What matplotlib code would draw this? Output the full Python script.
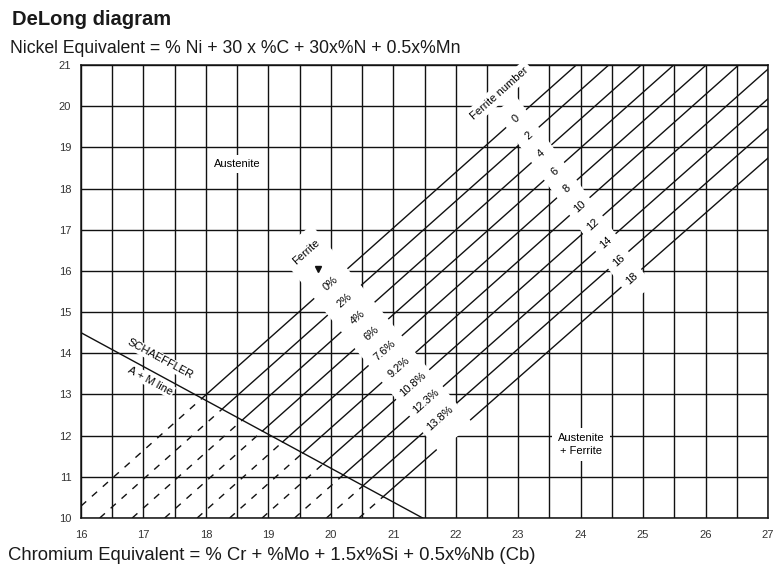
import numpy as np
import matplotlib

matplotlib.use("Agg")

import matplotlib.pyplot as plt

plt.rcParams["font.family"]=["Liberation Sans","DejaVu Sans"]

# axis ticks
cr_ticks=list(range(16,28))
ni_ticks=list(range(10,22))

# iso-ferrite lines, end points (Cr_eq, Ni_eq)
fn_numbers=[0,2,4,6,8,10,12,14,16,18]
fn_percent=["0%","2%","4%","6%","7.6%","9.2%","10.8%","12.3%","13.8%",""]
fn_start=[(16.0,10.29),(16.30,10),(16.82,10),(17.34,10),(17.86,10),
          (18.38,10),(18.90,10),(19.42,10),(19.93,10),(20.45,10)]
fn_end=[(23.93,21),(24.45,21),(24.97,21),(25.49,21),(26.01,21),
        (26.53,21),(27,20.90),(27,20.18),(27,19.46),(27,18.74)]

# Schaeffler A + M line
schaeffler_cr=[16.0,21.47]
schaeffler_ni=[14.5,10.0]

# label guides (where the labels sit along the lines)
pct_guide=[(19.42,16.78),(22.0,11.95)]
fn_guide=[(22.80,20.05),(24.99,15.45)]


def intersect(p0,p1,q0,q1):
    p0,p1,q0,q1=map(np.asarray,(p0,p1,q0,q1))
    d1=p1-p0
    d2=q1-q0
    den=d1[0]*d2[1]-d1[1]*d2[0]
    t=((q0[0]-p0[0])*d2[1]-(q0[1]-p0[1])*d2[0])/den
    return p0+t*d1


fig=plt.figure(figsize=(7.8,5.72),dpi=100)

ax=fig.add_axes([81/780,1-518/572,687/780,453/572])

ax.set_xlim(16,27)
ax.set_ylim(10,21)

ax.set_xticks(cr_ticks)
ax.set_yticks(ni_ticks)
ax.set_xticks(np.arange(16.5,27,1.0),minor=True)

ax.tick_params(which="both",length=0,labelsize=8,labelcolor="#333333")
ax.tick_params(axis="x",pad=9)
ax.tick_params(axis="y",pad=7)

ax.set_axisbelow(True)
ax.grid(which="major",color="#111111",linewidth=1.0)
ax.grid(which="minor",axis="x",color="#111111",linewidth=1.0)

for s in ax.spines.values():
    s.set_linewidth(1.1)
    s.set_color("#111111")

# Schaeffler line
ax.plot(schaeffler_cr,schaeffler_ni,color="#111111",linewidth=1.0,zorder=4)

sch0=(schaeffler_cr[0],schaeffler_ni[0])
sch1=(schaeffler_cr[1],schaeffler_ni[1])

# iso-ferrite lines: dashed below Schaeffler line, solid above
for i,fn in enumerate(fn_numbers):
    p0=fn_start[i]
    p1=fn_end[i]

    cut=intersect(p0,p1,sch0,sch1)

    ax.plot([p0[0],cut[0]],[p0[1],cut[1]],color="#111111",linewidth=1.0,
            linestyle=(0,(5,5.5)),zorder=2)

    ax.plot([cut[0],p1[0]],[cut[1],p1[1]],color="#111111",linewidth=1.0,zorder=2)

# white bands behind the label rows
for g,w in [(pct_guide,32),(fn_guide,19)]:
    ax.plot([g[0][0],g[1][0]],[g[0][1],g[1][1]],color="white",linewidth=w,
            solid_capstyle="butt",zorder=3)

angle=np.degrees(np.arctan2(fn_end[0][1]-fn_start[0][1],fn_end[0][0]-fn_start[0][0]))

for i,fn in enumerate(fn_numbers):
    p0=fn_start[i]
    p1=fn_end[i]

    pf=intersect(p0,p1,*fn_guide)

    ax.text(pf[0],pf[1],str(fn),fontsize=8,rotation=angle,
            transform_rotates_text=True,ha="center",va="center",
            rotation_mode="anchor",zorder=5)

    if fn_percent[i]:
        pp=intersect(p0,p1,*pct_guide)

        ax.text(pp[0],pp[1],fn_percent[i],fontsize=8,rotation=angle,
                transform_rotates_text=True,ha="center",va="center",
                rotation_mode="anchor",zorder=5)

white_box=dict(facecolor="white",edgecolor="none",pad=2.5)

ax.text(19.61,16.47,"Ferrite",fontsize=8,rotation=angle,
        transform_rotates_text=True,ha="center",va="center",
        rotation_mode="anchor",zorder=5,bbox=white_box)

ax.plot([19.79],[16.05],marker="v",markersize=4.5,color="#111111",zorder=5)

ax.text(22.70,20.32,"Ferrite number",fontsize=8,rotation=angle,
        transform_rotates_text=True,ha="center",va="center",
        rotation_mode="anchor",zorder=6,bbox=white_box,clip_on=False)

ax.text(18.5,18.6,"Austenite",fontsize=8,ha="center",va="center",
        zorder=5,bbox=dict(facecolor="white",edgecolor="none",pad=3))

ax.text(24.01,11.78,"Austenite\n+ Ferrite",fontsize=8,ha="center",
        va="center",linespacing=1.3,zorder=5,
        bbox=dict(facecolor="white",edgecolor="none",pad=4))

sch_angle=np.degrees(np.arctan2(schaeffler_ni[1]-schaeffler_ni[0],
                                schaeffler_cr[1]-schaeffler_cr[0]))

ax.text(17.27,13.86,"SCHAEFFLER",fontsize=8,rotation=sch_angle,
        transform_rotates_text=True,ha="center",va="center",
        rotation_mode="anchor",zorder=3,
        bbox=dict(facecolor="white",edgecolor="none",pad=1.0))

ax.text(17.11,13.33,"A + M line",fontsize=8,rotation=sch_angle,
        transform_rotates_text=True,ha="center",va="center",
        rotation_mode="anchor",zorder=3,
        bbox=dict(facecolor="white",edgecolor="none",pad=1.0))

fig.text(12/780,1-25/572,"DeLong diagram",fontsize=14.5,fontweight="bold",
         color="#1a1a1a",ha="left",va="baseline")

fig.text(10/780,1-53/572,"Nickel Equivalent = % Ni + 30 x %C + 30x%N + 0.5x%Mn",
         fontsize=12.7,color="#1a1a1a",ha="left",va="baseline")

fig.text(8/780,1-560/572,"Chromium Equivalent = % Cr + %Mo + 1.5x%Si + 0.5x%Nb (Cb)",
         fontsize=13.3,color="#1a1a1a",ha="left",va="baseline")

fig.savefig("out.png",dpi=100,facecolor="white")
